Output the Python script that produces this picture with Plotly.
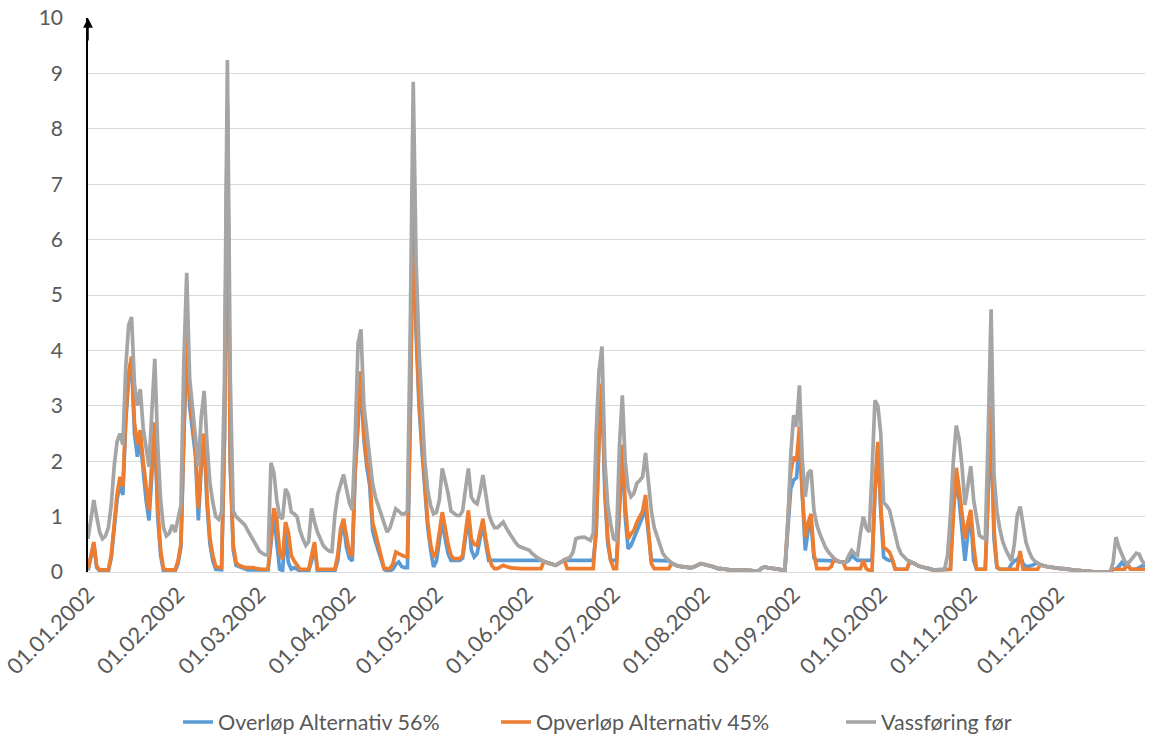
import pandas as pd
import plotly.graph_objects as go

# ---------------- data ----------------
start_date = "2002-01-01"
n_days = 365
dates = pd.date_range(start_date, periods=n_days, freq="D")

series_names = ["Overløp Alternativ 56%", "Opverløp Alternativ 45%", "Vassføring før"]

vassforing_for = [
    0.6, 1.0, 1.3, 1.0, 0.72, 0.6, 0.65, 0.8, 1.2, 1.9,
    2.35, 2.5, 2.3, 3.7, 4.45, 4.6, 3.4, 3.0, 3.3, 2.6,
    2.2, 1.9, 2.9, 3.85, 2.3, 1.3, 0.8, 0.65, 0.7, 0.85,
    0.72, 0.95, 1.2, 3.8, 5.4, 3.5, 3.0, 2.5, 1.9, 2.8,
    3.27, 2.3, 1.6, 1.25, 1.0, 0.95, 1.08, 3.5, 9.24, 3.5,
    1.1, 1.0, 0.95, 0.92, 0.85, 0.75, 0.65, 0.55, 0.45, 0.38,
    0.34, 0.31, 0.3, 1.97, 1.8, 1.3, 1.0, 0.96, 1.5, 1.4,
    1.08, 1.05, 1.0, 0.75, 0.6, 0.48, 0.55, 1.15, 0.9, 0.72,
    0.6, 0.48, 0.42, 0.38, 0.37, 1.02, 1.4, 1.6, 1.76, 1.5,
    1.25, 1.12, 2.4, 4.13, 4.38, 3.0, 2.5, 2.1, 1.6, 1.35,
    1.2, 1.0, 0.85, 0.72, 0.8, 0.95, 1.14, 1.1, 1.05, 1.05,
    1.1, 4.5, 8.85, 5.6, 4.0, 3.0, 2.0, 1.48, 1.2, 1.05,
    1.08, 1.3, 1.87, 1.65, 1.42, 1.1, 1.05, 1.02, 1.02, 1.1,
    1.5, 1.87, 1.35, 1.27, 1.23, 1.45, 1.75, 1.35, 1.05, 0.9,
    0.8, 0.8, 0.85, 0.9, 0.8, 0.7, 0.63, 0.55, 0.48, 0.45,
    0.43, 0.4, 0.39, 0.33, 0.28, 0.25, 0.22, 0.19, 0.17, 0.15,
    0.13, 0.12, 0.15, 0.19, 0.22, 0.24, 0.27, 0.35, 0.6, 0.62,
    0.63, 0.63, 0.6, 0.57, 0.7, 2.5, 3.64, 4.07, 2.0, 1.2,
    0.87, 0.6, 0.57, 2.26, 3.19, 2.0, 1.5, 1.36, 1.42, 1.6,
    1.65, 1.72, 2.15, 1.66, 1.1, 0.8, 0.63, 0.45, 0.33, 0.26,
    0.2, 0.16, 0.13, 0.11, 0.1, 0.09, 0.09, 0.08, 0.08, 0.1,
    0.13, 0.15, 0.14, 0.13, 0.12, 0.1, 0.08, 0.06, 0.06, 0.05,
    0.05, 0.04, 0.04, 0.04, 0.04, 0.03, 0.03, 0.03, 0.03, 0.02,
    0.02, 0.02, 0.07, 0.09, 0.08, 0.07, 0.06, 0.05, 0.05, 0.04,
    0.04, 0.9, 2.1, 2.83, 2.62, 3.37, 2.0, 1.36, 1.78, 1.84,
    1.11, 0.85, 0.69, 0.55, 0.44, 0.36, 0.29, 0.24, 0.2, 0.18,
    0.18, 0.18, 0.3, 0.39, 0.33, 0.3, 0.7, 1.0, 0.8, 0.72,
    1.8, 3.1, 3.0, 2.5, 1.25, 1.2, 1.12, 0.9, 0.66, 0.45,
    0.33, 0.27, 0.22, 0.19, 0.17, 0.14, 0.11, 0.09, 0.08, 0.07,
    0.05, 0.04, 0.04, 0.04, 0.05, 0.05, 0.3, 1.02, 2.0, 2.64,
    2.4, 1.9, 1.21, 1.6, 1.91, 1.3, 1.0, 0.66, 0.62, 0.6,
    2.5, 4.74, 1.76, 1.1, 0.78, 0.55, 0.41, 0.3, 0.2, 0.5,
    1.02, 1.18, 0.8, 0.54, 0.38, 0.26, 0.2, 0.16, 0.13, 0.11,
    0.1, 0.09, 0.08, 0.08, 0.07, 0.06, 0.06, 0.05, 0.05, 0.04,
    0.03, 0.03, 0.02, 0.02, 0.01, 0.01, 0.0, 0.0, 0.0, 0.0,
    0.0, 0.0, 0.0, 0.17, 0.63, 0.45, 0.32, 0.2, 0.14, 0.2,
    0.28, 0.34, 0.32, 0.2, 0.14,
]

alternativ_45 = [
    0.05, 0.3, 0.54, 0.1, 0.04, 0.04, 0.04, 0.04, 0.3, 0.9,
    1.4, 1.72, 1.54, 2.8, 3.6, 3.89, 2.7, 2.3, 2.56, 2.0,
    1.5, 1.11, 2.0, 2.7, 1.2, 0.39, 0.06, 0.04, 0.04, 0.04,
    0.04, 0.2, 0.51, 2.5, 4.3, 3.2, 2.7, 2.24, 1.14, 2.0,
    2.5, 1.34, 0.6, 0.3, 0.1, 0.08, 0.08, 2.5, 8.5, 2.0,
    0.5, 0.17, 0.12, 0.1, 0.08, 0.08, 0.08, 0.08, 0.06, 0.05,
    0.05, 0.05, 0.05, 0.6, 1.15, 0.96, 0.35, 0.23, 0.9, 0.72,
    0.3, 0.2, 0.12, 0.05, 0.05, 0.05, 0.05, 0.3, 0.54, 0.05,
    0.05, 0.05, 0.05, 0.05, 0.05, 0.05, 0.3, 0.78, 0.96, 0.6,
    0.35, 0.29, 1.88, 2.8, 3.62, 2.49, 2.0, 1.76, 0.9, 0.7,
    0.5, 0.3, 0.06, 0.06, 0.06, 0.15, 0.36, 0.33, 0.3, 0.28,
    0.27, 3.0, 6.8, 4.5, 3.1, 2.3, 1.5, 0.9, 0.5, 0.27,
    0.36, 0.7, 1.08, 0.8, 0.5, 0.3, 0.24, 0.24, 0.24, 0.3,
    0.7, 1.11, 0.6, 0.5, 0.48, 0.7, 0.96, 0.6, 0.3, 0.12,
    0.06, 0.06, 0.1, 0.12, 0.1, 0.08, 0.07, 0.07, 0.06, 0.06,
    0.06, 0.06, 0.06, 0.06, 0.06, 0.06, 0.06, 0.19, 0.17, 0.15,
    0.13, 0.12, 0.15, 0.19, 0.22, 0.06, 0.06, 0.06, 0.06, 0.06,
    0.06, 0.06, 0.06, 0.06, 0.06, 0.8, 2.5, 3.4, 1.6, 0.6,
    0.21, 0.06, 0.06, 1.2, 2.3, 1.23, 0.6, 0.69, 0.75, 0.9,
    1.0, 1.1, 1.39, 0.75, 0.15, 0.06, 0.06, 0.06, 0.06, 0.06,
    0.06, 0.16, 0.13, 0.11, 0.1, 0.09, 0.09, 0.08, 0.08, 0.1,
    0.13, 0.15, 0.14, 0.13, 0.12, 0.1, 0.08, 0.06, 0.06, 0.05,
    0.05, 0.04, 0.04, 0.04, 0.04, 0.03, 0.03, 0.03, 0.03, 0.02,
    0.02, 0.02, 0.07, 0.09, 0.08, 0.07, 0.06, 0.05, 0.05, 0.04,
    0.04, 0.9, 1.8, 2.08, 2.0, 2.62, 1.42, 0.63, 0.9, 1.05,
    0.33, 0.06, 0.06, 0.06, 0.06, 0.06, 0.1, 0.24, 0.2, 0.18,
    0.18, 0.06, 0.06, 0.06, 0.06, 0.06, 0.06, 0.21, 0.06, 0.03,
    0.03, 1.5, 2.35, 1.2, 0.45, 0.41, 0.36, 0.23, 0.05, 0.05,
    0.05, 0.05, 0.05, 0.19, 0.17, 0.14, 0.11, 0.09, 0.08, 0.07,
    0.05, 0.04, 0.04, 0.04, 0.05, 0.05, 0.05, 0.05, 1.0, 1.88,
    1.5, 1.0, 0.6, 0.9, 1.12, 0.48, 0.05, 0.05, 0.05, 0.05,
    1.5, 3.0, 0.78, 0.1, 0.05, 0.05, 0.05, 0.05, 0.05, 0.05,
    0.05, 0.38, 0.05, 0.05, 0.05, 0.05, 0.05, 0.05, 0.13, 0.11,
    0.1, 0.09, 0.08, 0.08, 0.07, 0.06, 0.06, 0.05, 0.05, 0.04,
    0.03, 0.03, 0.02, 0.02, 0.01, 0.01, 0.0, 0.0, 0.0, 0.0,
    0.0, 0.0, 0.0, 0.05, 0.05, 0.05, 0.05, 0.05, 0.14, 0.05,
    0.05, 0.05, 0.05, 0.05, 0.05,
]

alternativ_56 = [
    0.03, 0.3, 0.5, 0.08, 0.02, 0.02, 0.02, 0.02, 0.25, 0.85,
    1.3, 1.6, 1.39, 2.7, 3.5, 3.8, 2.5, 2.08, 2.4, 1.85,
    1.3, 0.93, 1.9, 2.6, 1.0, 0.3, 0.02, 0.02, 0.02, 0.02,
    0.02, 0.15, 0.45, 2.4, 4.2, 3.0, 2.5, 2.1, 0.93, 1.9,
    2.4, 1.2, 0.5, 0.2, 0.05, 0.04, 0.04, 2.4, 8.4, 1.9,
    0.4, 0.12, 0.1, 0.08, 0.06, 0.04, 0.04, 0.04, 0.04, 0.04,
    0.04, 0.04, 0.04, 0.5, 1.08, 0.54, 0.05, 0.03, 0.72, 0.17,
    0.05, 0.08, 0.04, 0.02, 0.02, 0.02, 0.02, 0.2, 0.48, 0.02,
    0.02, 0.02, 0.02, 0.02, 0.02, 0.02, 0.2, 0.66, 0.87, 0.45,
    0.25, 0.2, 1.8, 2.7, 3.5, 2.4, 1.9, 1.57, 0.75, 0.55,
    0.4, 0.2, 0.05, 0.02, 0.02, 0.05, 0.14, 0.18, 0.1, 0.08,
    0.08, 2.8, 6.6, 4.3, 3.0, 2.2, 1.4, 0.8, 0.4, 0.09,
    0.2, 0.6, 0.93, 0.6, 0.33, 0.21, 0.21, 0.21, 0.21, 0.25,
    0.65, 1.0, 0.4, 0.27, 0.33, 0.6, 0.87, 0.5, 0.21, 0.21,
    0.21, 0.21, 0.21, 0.21, 0.21, 0.21, 0.21, 0.21, 0.21, 0.21,
    0.21, 0.21, 0.21, 0.21, 0.21, 0.21, 0.21, 0.19, 0.17, 0.15,
    0.13, 0.12, 0.15, 0.19, 0.21, 0.21, 0.21, 0.21, 0.21, 0.21,
    0.21, 0.21, 0.21, 0.21, 0.21, 0.7, 2.4, 3.3, 1.4, 0.5,
    0.21, 0.21, 0.21, 1.1, 2.2, 1.0, 0.42, 0.48, 0.6, 0.75,
    0.87, 1.0, 1.17, 0.6, 0.21, 0.21, 0.21, 0.21, 0.21, 0.21,
    0.2, 0.16, 0.13, 0.11, 0.1, 0.09, 0.09, 0.08, 0.08, 0.1,
    0.13, 0.15, 0.14, 0.13, 0.12, 0.1, 0.08, 0.06, 0.06, 0.05,
    0.05, 0.04, 0.04, 0.04, 0.04, 0.03, 0.03, 0.03, 0.03, 0.02,
    0.02, 0.02, 0.07, 0.09, 0.08, 0.07, 0.06, 0.05, 0.05, 0.04,
    0.04, 0.8, 1.5, 1.66, 1.7, 2.38, 1.2, 0.39, 0.75, 0.9,
    0.25, 0.21, 0.21, 0.21, 0.21, 0.21, 0.21, 0.21, 0.2, 0.18,
    0.18, 0.18, 0.21, 0.3, 0.25, 0.21, 0.21, 0.21, 0.21, 0.21,
    0.21, 1.4, 2.3, 1.1, 0.27, 0.23, 0.21, 0.21, 0.05, 0.05,
    0.05, 0.05, 0.05, 0.19, 0.17, 0.14, 0.11, 0.09, 0.08, 0.07,
    0.05, 0.04, 0.04, 0.04, 0.05, 0.05, 0.05, 0.05, 1.2, 1.6,
    1.3, 0.7, 0.2, 0.7, 1.0, 0.2, 0.05, 0.05, 0.05, 0.05,
    1.4, 2.8, 0.6, 0.08, 0.05, 0.05, 0.05, 0.05, 0.14, 0.2,
    0.22, 0.3, 0.15, 0.1, 0.1, 0.12, 0.15, 0.16, 0.13, 0.11,
    0.1, 0.09, 0.08, 0.08, 0.07, 0.06, 0.06, 0.05, 0.05, 0.04,
    0.03, 0.03, 0.02, 0.02, 0.01, 0.01, 0.0, 0.0, 0.0, 0.0,
    0.0, 0.0, 0.0, 0.05, 0.05, 0.1, 0.17, 0.12, 0.14, 0.05,
    0.05, 0.05, 0.08, 0.11, 0.11,
]

tick_dates = pd.date_range("2002-01-01", "2002-12-01", freq="MS")
tick_labels = [d.strftime("%d.%m.%Y") for d in tick_dates]
y_ticks = list(range(0, 11))

# ---------------- styling ----------------
FONT = "Lato"
TXT = "#595959"
colors = ["#5B9BD5", "#ED7D31", "#A5A5A5"]
series_values = [alternativ_56, alternativ_45, vassforing_for]
legend_ids = ["legend", "legend2", "legend3"]

fig = go.Figure()
for name, vals, col, lid in zip(series_names, series_values, colors, legend_ids):
    fig.add_trace(go.Scatter(
        x=dates, y=vals, mode="lines", name=name,
        line=dict(color=col, width=3.7),
        legend=lid,
    ))

W, H = 1150, 744
L, R, T, B = 88, 5, 18, 172

legend_text_starts = [219, 537, 882]
leg_common = dict(orientation="h", yanchor="middle", xanchor="left",
                  xref="container", yref="container",
                  font=dict(family=FONT, size=21.5, color=TXT),
                  bgcolor="rgba(0,0,0,0)")

layout_legends = {}
for lid, ts in zip(legend_ids, legend_text_starts):
    layout_legends[lid] = dict(x=(ts - 41) / W, y=1 - 722 / H, **leg_common)

fig.update_layout(
    width=W, height=H,
    margin=dict(l=L, r=R, t=T, b=B, autoexpand=False),
    paper_bgcolor="white", plot_bgcolor="white",
    font=dict(family=FONT, size=20, color=TXT),
    showlegend=True,
    **layout_legends,
    xaxis=dict(
        type="date",
        range=["2002-01-01", "2002-12-31"],
        tickmode="array", tickvals=tick_dates, ticktext=tick_labels,
        tickangle=-45,
        tickfont=dict(family=FONT, size=22, color=TXT),
        showgrid=False, zeroline=False,
        showline=True, linecolor="#D9D9D9", linewidth=1,
        ticks="", automargin=False,
    ),
    yaxis=dict(
        range=[0, 10],
        tickmode="array", tickvals=y_ticks,
        tickfont=dict(family=FONT, size=21, color=TXT),
        showgrid=True, gridcolor="#D9D9D9", gridwidth=1,
        zeroline=False,
        showline=True, linecolor="black", linewidth=1.5,
        ticks="", ticklabelstandoff=19, automargin=False,
    ),
)

fig.add_annotation(
    x=dates[0], y=10, xref="x", yref="y",
    ax=0, ay=24, text="", showarrow=True,
    arrowhead=2, arrowsize=1.3, arrowwidth=1.5, arrowcolor="black",
)

fig.write_html(
    "out.html",
    config={"displayModeBar": False},
    post_script="document.body.style.margin='0';document.body.style.overflow='hidden';",
)
